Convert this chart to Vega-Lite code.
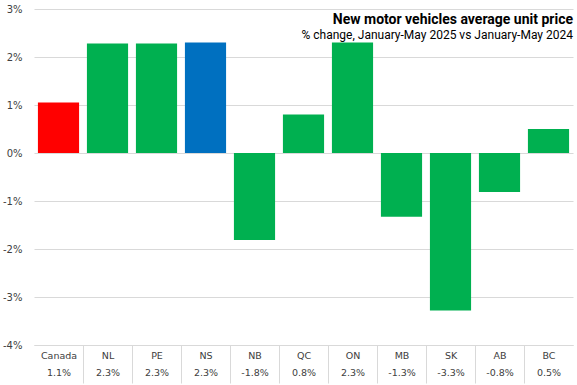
{
  "$schema": "https://vega.github.io/schema/vega-lite/v6.json",
  "width": 539,
  "height": 336,
  "autosize": {"type": "none"},
  "padding": {"left": 34, "top": 9, "right": 4, "bottom": 40},
  "background": "white",
  "title": {
    "text": "New motor vehicles average unit price",
    "subtitle": "% change, January-May  2025 vs January-May  2024",
    "anchor": "end",
    "frame": "group",
    "orient": "top",
    "offset": -37,
    "font": "Roboto",
    "fontSize": 14,
    "fontWeight": "bold",
    "color": "#000000",
    "subtitleFont": "Roboto",
    "subtitleFontSize": 12,
    "subtitleColor": "#000000",
    "subtitlePadding": 3
  },
  "data": {
    "values": [
      {"province": "Canada", "value": 1.05, "label": "Canada|1.1%"},
      {"province": "NL", "value": 2.28, "label": "NL|2.3%"},
      {"province": "PE", "value": 2.28, "label": "PE|2.3%"},
      {"province": "NS", "value": 2.3, "label": "NS|2.3%"},
      {"province": "NB", "value": -1.81, "label": "NB|-1.8%"},
      {"province": "QC", "value": 0.8, "label": "QC|0.8%"},
      {"province": "ON", "value": 2.3, "label": "ON|2.3%"},
      {"province": "MB", "value": -1.33, "label": "MB|-1.3%"},
      {"province": "SK", "value": -3.28, "label": "SK|-3.3%"},
      {"province": "AB", "value": -0.81, "label": "AB|-0.8%"},
      {"province": "BC", "value": 0.5, "label": "BC|0.5%"}
    ]
  },
  "mark": {"type": "bar", "width": {"band": 0.84}},
  "encoding": {
    "x": {
      "field": "label",
      "type": "nominal",
      "sort": null,
      "title": null,
      "scale": {"paddingInner": 0, "paddingOuter": 0},
      "axis": {
        "labelExpr": "split(datum.label, '|')",
        "labelAngle": 0,
        "labelFont": "DejaVu Sans",
        "labelFontSize": 9.5,
        "labelColor": "#404040",
        "labelLineHeight": 17,
        "labelBaseline": "top",
        "labelPadding": -33,
        "tickBand": "extent",
        "tickSize": 38,
        "tickColor": {"condition": {"test": "datum.index < 0 || datum.index >= 1", "value": "transparent"}, "value": "#d9d9d9"},
        "domainColor": "#d9d9d9",
        "grid": false
      }
    },
    "y": {
      "field": "value",
      "type": "quantitative",
      "title": null,
      "scale": {"domain": [-4, 3], "nice": false, "zero": false},
      "axis": {
        "values": [-4, -3, -2, -1, 0, 1, 2, 3],
        "labelExpr": "(datum.value < 0 ? '-' : '') + abs(datum.value) + '%'",
        "labelFont": "DejaVu Sans",
        "labelFontSize": 10,
        "labelColor": "#404040",
        "labelPadding": 12,
        "ticks": false,
        "domain": false,
        "gridColor": "#d9d9d9",
        "zindex": 0
      }
    },
    "color": {
      "field": "province",
      "type": "nominal",
      "legend": null,
      "scale": {
        "domain": ["Canada", "NL", "PE", "NS", "NB", "QC", "ON", "MB", "SK", "AB", "BC"],
        "range": ["#ff0000", "#00b050", "#00b050", "#0070c0", "#00b050", "#00b050", "#00b050", "#00b050", "#00b050", "#00b050", "#00b050"]
      }
    }
  },
  "config": {"view": {"stroke": null}}
}
